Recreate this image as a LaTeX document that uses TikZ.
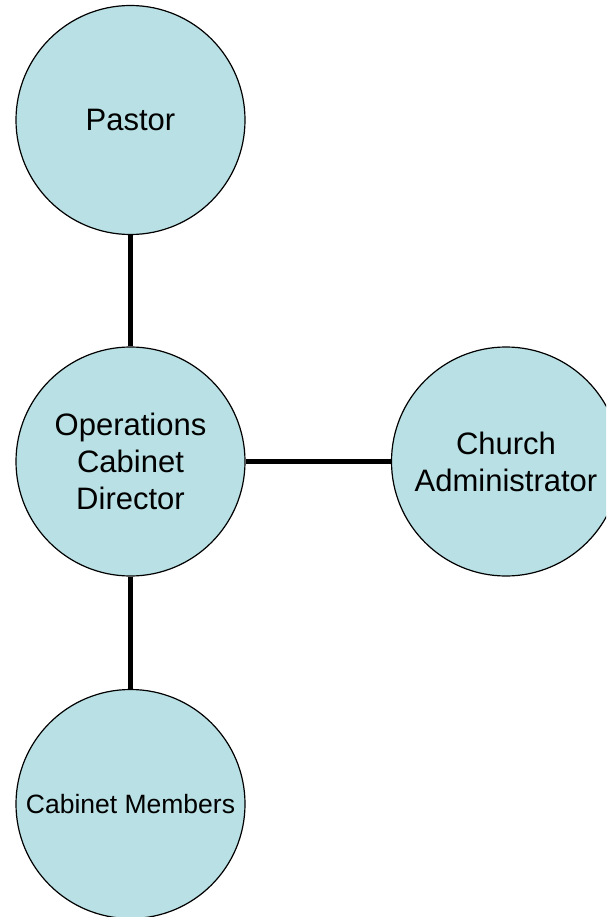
\documentclass[tikz,border=0pt]{standalone}
\usepackage{fontspec}
\setmainfont{Liberation Sans}
\definecolor{bubble}{RGB}{185,224,228}
\begin{document}
\begin{tikzpicture}[x=1pt,y=-1pt,
  role/.style={circle,draw=black,line width=1.2pt,fill=bubble,
    minimum size=229pt,inner sep=0pt,align=center,
    font=\fontsize{31}{37}\selectfont},
  link/.style={line width=5.5pt,black}]
  \useasboundingbox (0,0) rectangle (606,917);
  \begin{scope}
    \clip (0,0) rectangle (606,917);
    \node[role] (pastor) at (130.5,120) {Pastor};
    \node[role] (ops) at (130.5,461.5) {Operations\\Cabinet\\Director};
    \node[role] (admin) at (506,461.5) {Church\\Administrator};
    \node[role,font=\fontsize{26.5}{31}\selectfont] (members) at (130.5,804) {Cabinet Members};
    \draw[link] (pastor) -- (ops);
    \draw[link] (ops) -- (admin);
    \draw[link] (ops) -- (members);
  \end{scope}
\end{tikzpicture}
\end{document}
